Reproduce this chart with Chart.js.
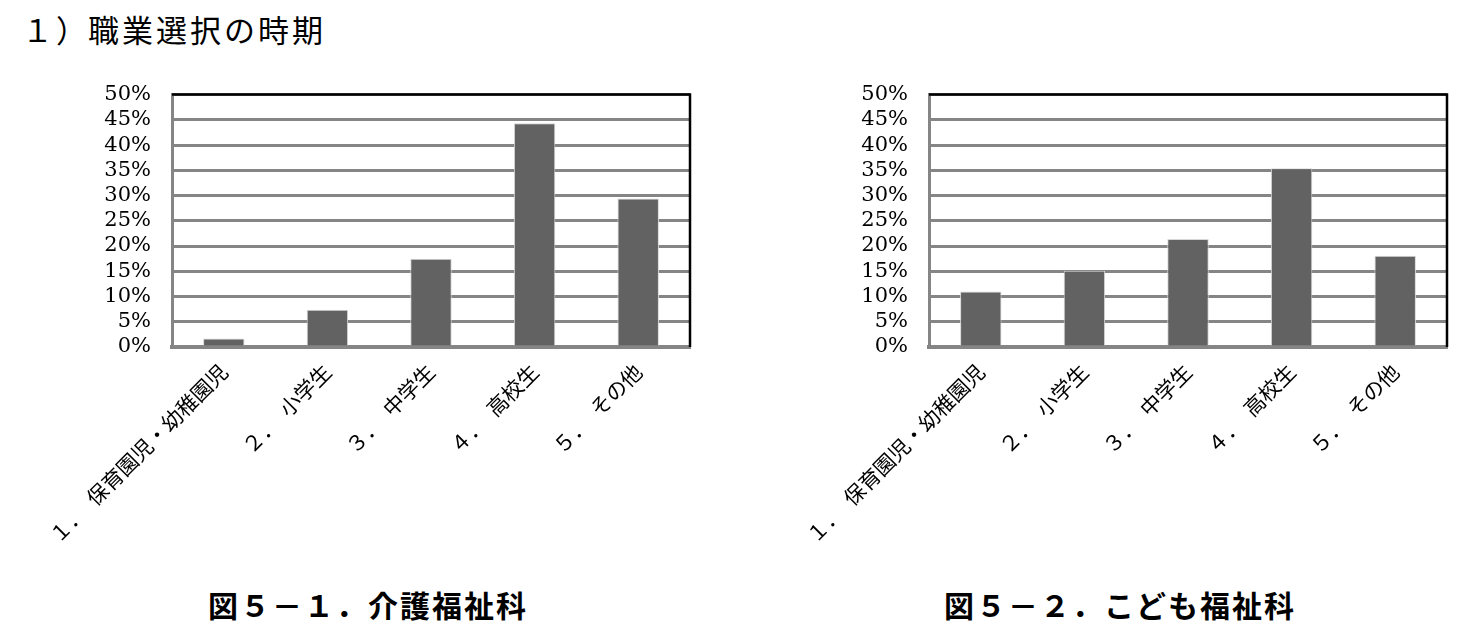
<!DOCTYPE html>
<html>
<head>
<meta charset="utf-8">
<script src="https://cdn.jsdelivr.net/npm/chart.js@4.4.0/dist/chart.umd.min.js"></script>
<style>
  body { margin: 0; background: #fff; width: 1477px; height: 632px; position: relative; overflow: hidden; font-family: "Noto Sans CJK JP", sans-serif; }
  .title { position: absolute; top: 6px; font-size: 31px; color: #000; letter-spacing: 3px; }
  .caption { position: absolute; top: 582px; font-size: 30px; font-weight: bold; color: #000; letter-spacing: 2px; text-align: center; width: 500px; }
  .box { position: absolute; top: 61px; width: 680px; height: 519px; }
</style>
</head>
<body>
<div class="title" style="left:22px">１）</div>
<div class="title" style="left:88px">職業選択の時期</div>

<div class="box" style="left:20px"><canvas id="chartKaigo"></canvas></div>
<div class="box" style="left:777px"><canvas id="chartKodomo"></canvas></div>

<div class="caption" style="left:118px">図５－１．介護福祉科</div>
<div class="caption" style="left:870px">図５－２．こども福祉科</div>

<script>
// categories (x axis)
const categories = ['１．　保育園児・幼稚園児', '２．　小学生', '３．　中学生', '４．　高校生', '５．　その他'];

// percentages
const kaigoValues = [1.7, 7.4, 17.5, 44.3, 29.4];
const kodomoValues = [11.0, 15.1, 21.4, 35.4, 18.1];

// y axis ticks
const yMax = 50;
const yStep = 5;

// black frame on top and right of plot area
const frameLines = {
    id: 'frameLines',
    afterDatasetsDraw(chart) {
        const { ctx, chartArea: a } = chart;
        ctx.save();
        ctx.strokeStyle = '#000';
        ctx.lineWidth = 2.5;
        ctx.beginPath();
        ctx.moveTo(a.left, a.top);
        ctx.lineTo(a.right, a.top);
        ctx.lineTo(a.right, a.bottom);
        ctx.stroke();
        ctx.restore();
    }
};

function makeChart(id, values) {
    const ctx = document.getElementById(id).getContext('2d');
    return new Chart(ctx, {
        type: 'bar',
        data: {
            labels: categories,
            datasets: [{
                data: values,
                backgroundColor: '#626262',
                borderColor: '#d8d8d8',
                borderWidth: 1,
                barPercentage: 0.4,
                categoryPercentage: 1.0
            }]
        },
        options: {
            responsive: true,
            maintainAspectRatio: false,
            animation: false,
            layout: { padding: { top: 0, right: 10, bottom: 0, left: 0 } },
            plugins: {
                legend: { display: false },
                tooltip: { enabled: false }
            },
            scales: {
                y: {
                    min: 0,
                    max: yMax,
                    afterFit: s => { s.width = 152; },
                    ticks: {
                        stepSize: yStep,
                        autoSkip: false,
                        padding: 21,
                        color: '#000',
                        font: { family: 'DejaVu Serif', size: 21 },
                        callback: v => v + '%'
                    },
                    grid: { color: '#858585', lineWidth: 3, drawTicks: false },
                    border: { color: '#858585', width: 3 }
                },
                x: {
                    afterFit: s => { s.height = 233; },
                    ticks: {
                        autoSkip: false,
                        minRotation: 45,
                        maxRotation: 45,
                        padding: 4,
                        color: '#000',
                        font: { family: 'Noto Sans CJK JP', size: 21 }
                    },
                    grid: { display: false },
                    border: { color: '#858585', width: 4 }
                }
            }
        },
        plugins: [frameLines]
    });
}

makeChart('chartKaigo', kaigoValues);
makeChart('chartKodomo', kodomoValues);
</script>
</body>
</html>
